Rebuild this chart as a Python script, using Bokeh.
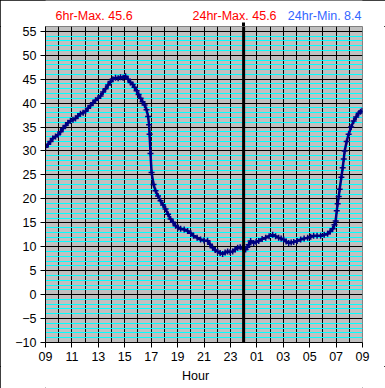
from bokeh.plotting import figure
from bokeh.layouts import column
from bokeh.models import (SingleIntervalTicker, FixedTicker, Range1d, Span, ColumnDataSource)
from bokeh.core.properties import value
from bokeh.embed import file_html
from bokeh.resources import INLINE

# hours since 09:00
hours = [0.00, 0.20, 0.38, 0.55, 0.76, 0.95, 1.14, 1.33, 1.52, 1.70, 1.89, 2.08, 2.27, 2.45,
         2.65, 2.85, 3.03, 3.22, 3.41, 3.60, 3.79, 3.98, 4.17, 4.36, 4.55, 4.74, 4.92, 5.10,
         5.30, 5.50, 5.68, 5.88, 6.06, 6.25, 6.44, 6.60, 6.74, 6.90, 7.05, 7.20, 7.35, 7.50,
         7.65, 7.77, 7.84, 7.88, 7.95, 8.03, 8.18, 8.33, 8.52, 8.71, 8.90, 9.09, 9.28, 9.47,
         9.66, 9.85, 10.04, 10.23, 10.50, 10.76, 11.00, 11.21, 11.48, 11.74, 12.00, 12.27,
         12.45, 12.65, 12.85, 13.03, 13.22, 13.41, 13.60, 13.79, 13.98, 14.17, 14.36, 14.55,
         14.74, 14.92, 15.05, 15.15, 15.28, 15.38, 15.53, 15.76, 15.95, 16.14, 16.40, 16.67,
         16.93, 17.20, 17.42, 17.65, 17.84, 18.03, 18.22, 18.41, 18.60, 18.79, 19.05, 19.32,
         19.58, 19.85, 20.08, 20.30, 20.56, 20.83, 21.10, 21.36, 21.55, 21.74, 21.88, 21.97,
         22.05, 22.12, 22.20, 22.27, 22.40, 22.50, 22.58, 22.65, 22.80, 22.95, 23.14, 23.33,
         23.52, 23.71, 23.85, 23.97]
temps = [30.8, 31.4, 32.0, 32.6, 33.0, 33.4, 34.0, 34.7, 35.3, 35.9, 36.3, 36.5, 36.8, 37.3,
         37.8, 38.0, 38.3, 38.9, 39.5, 40.1, 40.6, 41.0, 41.5, 42.3, 43.0, 43.8, 44.5, 45.0,
         45.3, 45.2, 45.4, 45.3, 45.6, 45.0, 44.3, 43.9, 43.3, 42.6, 41.8, 41.0, 40.3, 39.6,
         38.6, 37.2, 35.5, 33.5, 29.5, 25.5, 23.0, 21.7, 20.6, 19.6, 18.7, 17.9, 16.8, 15.8,
         15.1, 14.4, 14.0, 13.75, 13.6, 13.3, 12.8, 12.3, 11.9, 11.5, 11.3, 11.25,
         10.5, 9.8, 9.3, 9.0, 8.7, 8.5, 8.8, 9.0, 8.9, 9.0, 9.4, 9.8,
         9.9, 9.8, 9.5, 9.4, 9.9, 10.4, 11.2, 10.8, 11.0, 11.2, 11.6, 11.9,
         12.2, 12.5, 12.2, 11.9, 11.7, 11.5, 11.1, 10.8, 10.9, 11.0, 11.2, 11.5,
         11.7, 11.9, 12.1, 12.3, 12.3, 12.3, 12.5, 12.7, 13.2, 13.75, 14.6, 15.4,
         17.5, 19.0, 20.5, 22.0, 24.5, 26.5, 28.3, 30.0, 32.0, 33.5, 35.0, 36.25,
         37.1, 37.9, 38.2, 38.4]

x_tick_vals = list(range(0, 25, 2))
x_tick_labels = ["09", "11", "13", "15", "17", "19", "21", "23", "01", "03", "05", "07", "09"]
y_tick_vals = list(range(-10, 56, 5))

six_hr_max = 45.6
day_max = 45.6
day_min = 8.4
header_texts = [f"6hr-Max. {six_hr_max}", f"24hr-Max. {day_max}", f"24hr-Min. {day_min}"]
header_colors = ["#FF0000", "#FF0000", "#3366FF"]
x_title = "Hour"

W = 385
HEAD_H, MAIN_H, FOOT_H = 26, 340, 22
FL, FR, FB = 45, 23, 24


def blank(h):
    # frames in the column are aligned with the main chart's frame (page x 45..362),
    # so the x range is expressed in page pixels over that span
    f = figure(width=W, height=h, output_backend="svg", toolbar_location=None,
               x_range=Range1d(FL, W - FR), y_range=Range1d(h, 0),
               x_axis_location=None, y_axis_location=None,
               min_border=0, min_border_left=0, min_border_right=0,
               min_border_top=0, min_border_bottom=0,
               background_fill_color="white", border_fill_color="white")
    f.grid.visible = False
    f.outline_line_color = None
    f.title.visible = False
    return f


HFONT = dict(text_font=value("Liberation Sans"), text_font_size=value("12.5px"),
             text_baseline="middle")

# ---- header (texts above the plot area)
head = blank(HEAD_H)
head.text(x=[55, 192], y=[15, 15], text=header_texts[:2], text_color=header_colors[:2],
          text_align="left", **HFONT)
head.text(x=[361], y=[15], text=header_texts[2:], text_color=header_colors[2:],
          text_align="right", **HFONT)
# top stub of the midnight divider (page x of 00:00)
head.segment(x0=[243], y0=[22], x1=[243], y1=[26], line_color="black", line_width=3)

# ---- main chart
p = figure(width=W, height=MAIN_H, output_backend="svg", toolbar_location=None,
           x_range=Range1d(0, 24), y_range=Range1d(-10, 56),
           min_border_left=FL, min_border_right=FR, min_border_top=0, min_border_bottom=FB,
           background_fill_color="#C0C0C0", border_fill_color="white")
p.title.visible = False
p.outline_line_color = "#808080"

p.xgrid.ticker = SingleIntervalTicker(interval=1, num_minor_ticks=0)
p.xgrid.grid_line_color = "black"
p.xgrid.grid_line_alpha = 1
p.ygrid.ticker = SingleIntervalTicker(interval=5, num_minor_ticks=5)
p.ygrid.grid_line_color = "black"
p.ygrid.grid_line_alpha = 1
p.ygrid.minor_grid_line_color = "#00FFFF"
p.ygrid.minor_grid_line_alpha = 1

p.xaxis.ticker = FixedTicker(ticks=x_tick_vals)
p.xaxis.major_label_overrides = {v: l for v, l in zip(x_tick_vals, x_tick_labels)}
p.yaxis.ticker = FixedTicker(ticks=y_tick_vals)
for ax in (p.xaxis, p.yaxis):
    ax.axis_line_color = "black"
    ax.major_tick_line_color = "black"
    ax.major_tick_out = 5
    ax.major_tick_in = 0
    ax.minor_tick_line_color = None
    ax.major_label_text_font = "Liberation Sans"
    ax.major_label_text_font_size = "12.5px"
    ax.major_label_text_color = "black"
p.xaxis.major_label_standoff = 4
p.yaxis.major_label_standoff = 4

p.add_layout(Span(location=15, dimension="height", line_color="black", line_width=3))

src = ColumnDataSource(dict(h=hours, t=temps))
p.line("h", "t", source=src, line_color="#000080", line_width=2.5)
p.scatter("h", "t", source=src, marker="cross", size=6, line_color="#000080", line_width=1.5)

# ---- footer (x-axis title)
foot = blank(FOOT_H)
foot.text(x=[195], y=[9], text=[x_title], text_color="black", text_align="center", **HFONT)

layout = column(head, p, foot, spacing=0,
                styles={"outline": "1px solid black", "outline-offset": "-1px"})

open("out.html", "w").write(file_html(layout, INLINE))
